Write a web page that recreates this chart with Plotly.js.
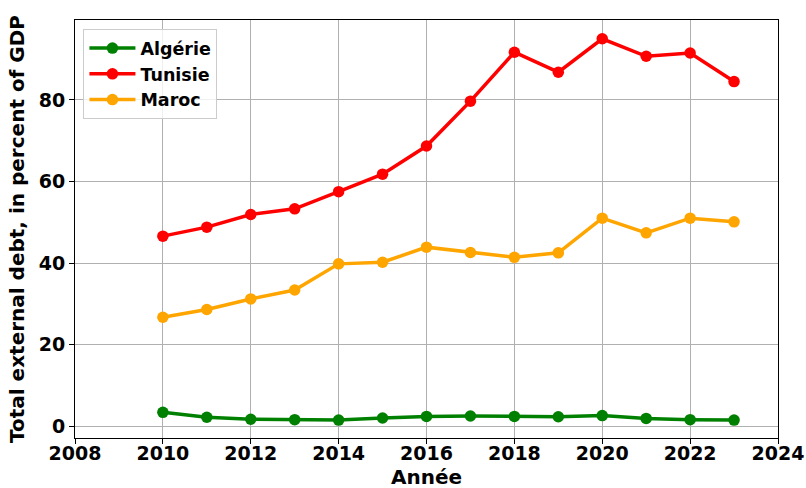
<!DOCTYPE html>
<html>
<head>
<meta charset="utf-8">
<script src="https://cdn.plot.ly/plotly-3.0.1.min.js"></script>
<style>html,body{margin:0;padding:0;background:#fff;}#chart{width:806px;height:488px;}</style>
</head>
<body>
<div id="chart"></div>
<script>
const years = [2010,2011,2012,2013,2014,2015,2016,2017,2018,2019,2020,2021,2022,2023];
const algerie = [3.4,2.2,1.7,1.6,1.5,2.0,2.4,2.5,2.4,2.3,2.6,1.9,1.6,1.5];
const tunisie = [46.6,48.8,51.9,53.3,57.5,61.8,68.7,79.7,91.7,86.8,95.0,90.7,91.5,84.5];
const maroc = [26.7,28.6,31.2,33.4,39.8,40.2,43.9,42.6,41.4,42.5,51.0,47.4,51.0,50.1];
const seriesNames = ["Algérie","Tunisie","Maroc"];
const seriesColors = ["green","red","orange"];
const xTicks = [2008,2010,2012,2014,2016,2018,2020,2022,2024];
const yTicks = [0,20,40,60,80];
const xTitle = 'Année';
const yTitle = 'Total external debt, in percent of GDP';

const dataSets = [algerie, tunisie, maroc];
const traces = dataSets.map((vals, i) => ({
  x: years, y: vals, name: seriesNames[i], legendgroup: 'g' + i,
  type: 'scatter', mode: 'lines+markers',
  line: {color: seriesColors[i], width: 3.5},
  marker: {color: seriesColors[i], size: 11.5}
}));

const tickFont = {family: 'DejaVu Sans, sans-serif', size: 19, color: '#000', weight: 'bold'};
const titleFont = {family: 'DejaVu Sans, sans-serif', size: 20, color: '#000', weight: 'bold'};
const axisCommon = {
  showline: true, linecolor: '#000', linewidth: 1, mirror: true,
  ticks: 'outside', ticklen: 5, tickwidth: 1, tickcolor: '#000',
  showgrid: true, gridcolor: '#b0b0b0', gridwidth: 1, zeroline: false,
  tickfont: tickFont, automargin: false
};
const layout = {
  width: 806, height: 488,
  margin: {l: 75, r: 28, t: 20, b: 50},
  paper_bgcolor: '#fff', plot_bgcolor: '#fff',
  font: tickFont,
  showlegend: true,
  legend: {x: 0.012, y: 0.978, xanchor: 'left', yanchor: 'top',
    bgcolor: 'rgba(255,255,255,0.8)', bordercolor: '#cccccc', borderwidth: 1,
    font: {family: 'DejaVu Sans, sans-serif', size: 17.5, color: '#000', weight: 'bold'},
    traceorder: 'normal', tracegroupgap: 3, itemwidth: 46},
  xaxis: Object.assign({}, axisCommon, {
    range: [2008, 2024], tickmode: 'array', tickvals: xTicks, ticktext: xTicks.map(String),
    ticklabelstandoff: -7
  }),
  yaxis: Object.assign({}, axisCommon, {
    range: [-2.9, 99.6], tickmode: 'array', tickvals: yTicks, ticktext: yTicks.map(String),
    title: {text: yTitle, font: titleFont, standoff: 8}
  }),
  annotations: [{
    text: xTitle, xref: 'paper', yref: 'paper', x: 0.5, y: 0,
    xanchor: 'center', yanchor: 'top', yshift: -26, showarrow: false,
    font: titleFont, borderpad: 0
  }]
};
Plotly.newPlot('chart', traces, layout, {displayModeBar: false, staticPlot: true});
</script>
</body>
</html>
